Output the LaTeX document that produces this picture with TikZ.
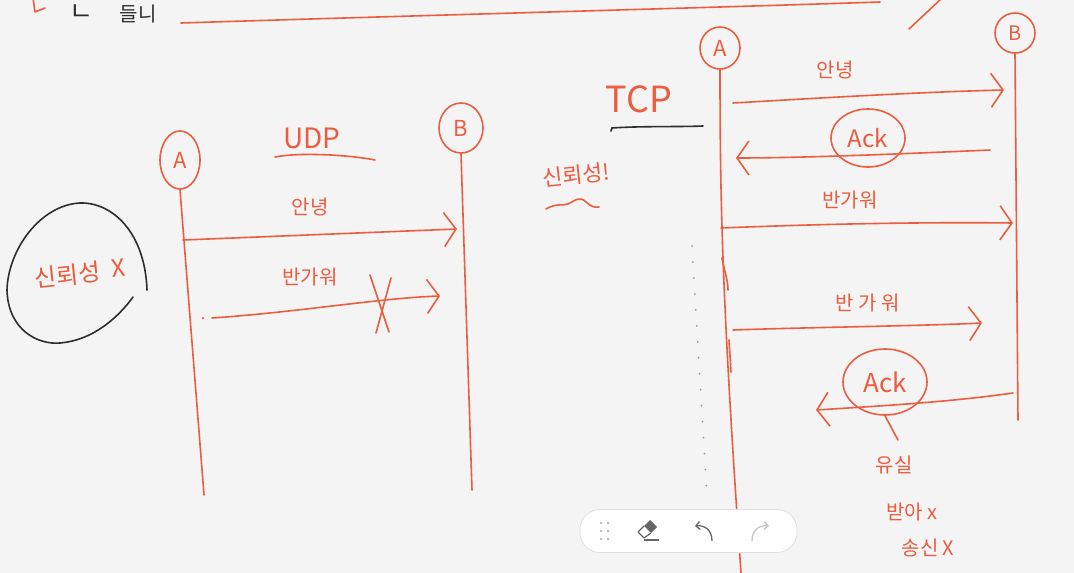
\documentclass[tikz,border=0pt]{standalone}
\usepackage{fontspec}
\newfontfamily\kr{Noto Sans CJK KR}
\usetikzlibrary{arrows.meta,shapes.geometric}
\definecolor{pen}{RGB}{236,92,62}
\definecolor{bg}{RGB}{244,244,244}
\definecolor{ink}{RGB}{45,45,45}
\begin{document}
\begin{tikzpicture}[x=1pt,y=-1pt,
  pen/.style={draw=pen,line width=1.6pt,line cap=round,line join=round},
  blk/.style={draw=ink,line width=1.6pt,line cap=round},
  ent/.style={ellipse,draw=pen,line width=1.6pt,text=pen,font=\kr\fontsize{22}{22}\selectfont,inner sep=0pt},
  lbl/.style={text=pen,font=\kr\fontsize{20}{20}\selectfont,inner sep=1pt},
  big/.style={text=pen,font=\kr\fontsize{36}{36}\selectfont,inner sep=0pt},
  msg/.style={pen,-{Straight Barb[length=12pt,width=34pt,line width=1.6pt]}},
  ackc/.style={ellipse,draw=pen,line width=1.6pt,text=pen,font=\kr\fontsize{24}{24}\selectfont,inner sep=0pt},
]
\fill[bg] (0,0) rectangle (1074,573);
\useasboundingbox (0,0) rectangle (1074,573);

% ---------- top fragments ----------
\coordinate (tl1) at (181,23);
\coordinate (tl2) at (880,2);
\draw[pen] (tl1) .. controls (400,16) and (700,8) .. (tl2);
\coordinate (td1) at (909,29);
\coordinate (td2) at (942,-2);
\draw[pen] (td1) -- (td2);
\coordinate (rm1) at (33,-2);
\coordinate (rm2) at (35,12);
\coordinate (rm3) at (45,8);
\draw[pen] (rm1) -- (rm2) -- (rm3);
\node[text=ink,font=\kr\fontsize{26}{26}\selectfont,inner sep=0pt] (tk1) at (81,13) {ㄴ};
\node[text=ink,font=\kr\fontsize{20}{20}\selectfont,inner sep=0pt] (tk2) at (138,14) {들니};

% ---------- UDP ----------
\node[ent,minimum width=40pt,minimum height=58pt] (ua) at (180,160) {A};
\node[ent,minimum width=44pt,minimum height=50pt] (ub) at (461,128) {B};
\coordinate (uaend) at (204,495);
\coordinate (ubend) at (472,490);
\draw[pen] (ua.south) -- (uaend);
\draw[pen] (ub.south) -- (ubend);

\node[big,font=\kr\fontsize{28}{28}\selectfont] (udp) at (312,138) {UDP};
\coordinate (uu1) at (275,157);
\coordinate (uu2) at (375,160);
\draw[pen] (uu1) .. controls (300,152) and (350,155) .. (uu2);

\coordinate (u1s) at (183,240);
\coordinate (u1e) at (457,229);
\draw[msg] (u1s) -- (u1e);
\node[lbl] (u1l) at (310,207) {안녕};

\node[circle,fill=pen,inner sep=0pt,minimum size=2.5pt] (udot) at (203,318) {};
\coordinate (u2s) at (212,318);
\coordinate (u2e) at (440,296);
\draw[msg] (u2s) .. controls (300,312) and (380,298) .. (u2e);
\node[lbl] (u2l) at (310,277) {반가워};
\coordinate (x1a) at (370,275);
\coordinate (x1b) at (389,332);
\coordinate (x2a) at (391,278);
\coordinate (x2b) at (376,333);
\draw[pen] (x1a) -- (x1b);
\draw[pen] (x2a) -- (x2b);

% reliability X (circled)
\node[lbl,font=\kr\fontsize{24}{24}\selectfont,rotate=6] (relx) at (68,275) {신뢰성};
\node[lbl,font=\kr\fontsize{24}{24}\selectfont,rotate=6] (relxx) at (118,268) {X};
\coordinate (c1) at (147,290);
\coordinate (c2) at (133,297);
\draw[blk] (c1) .. controls (145,232) and (112,202) .. (80,203)
  .. controls (40,205) and (8,250) .. (7,290)
  .. controls (8,330) and (38,345) .. (60,343)
  .. controls (95,340) and (120,315) .. (c2);

% ---------- TCP ----------
\node[big] (tcp) at (639,99) {TCP};
\coordinate (tb1) at (611,131);
\coordinate (tb2) at (703,126);
\draw[blk] (tb1) -- (612,128) .. controls (640,126) and (680,127) .. (tb2);
\node[lbl,font=\kr\fontsize{22}{22}\selectfont,rotate=6] (rel) at (576,175) {신뢰성!};
\coordinate (sq1) at (546,209);
\coordinate (sq2) at (599,207);
\draw[pen] (sq1) .. controls (556,203) and (562,206) .. (568,204)
  .. controls (576,200) and (580,196) .. (586,202)
  .. controls (590,206) and (595,208) .. (sq2);

\node[ent,minimum width=40pt,minimum height=42pt] (ta) at (720,48) {A};
\node[ent,minimum width=40pt,minimum height=40pt,font=\kr\fontsize{20}{20}\selectfont] (tbn) at (1015,33) {B};
\coordinate (taend) at (741,573);
\coordinate (tbend) at (1018,420);
\draw[pen] (ta.south) .. controls (720,200) and (722,300) .. (taend);
\draw[pen] (tbn.south) -- (tbend);
\coordinate (dbl1) at (729,340);
\coordinate (dbl2) at (731,372);
\draw[pen] (dbl1) -- (dbl2);
\coordinate (lp1) at (722,258);
\coordinate (lp2) at (728,290);
\draw[pen] (lp1) .. controls (724,270) and (728,280) .. (lp2);

% dotted guide
\coordinate (dt1) at (692,246);
\coordinate (dt2) at (707,497);
\draw[gray!80,line width=2pt,line cap=round,dash pattern=on 0pt off 16pt] (dt1) -- (dt2);

% messages
\coordinate (t1s) at (733,103);
\coordinate (t1e) at (1004,90);
\draw[msg] (t1s) .. controls (820,98) and (920,92) .. (t1e);
\node[lbl] (t1l) at (835,70) {안녕};

\node[ackc,minimum width=74pt,minimum height=58pt] (ack1) at (868,138) {Ack};
\coordinate (t2s) at (990,150);
\coordinate (t2e) at (736,158);
\draw[msg] (t2s) .. controls (900,154) and (800,158) .. (t2e);

\coordinate (t3s) at (721,228);
\coordinate (t3e) at (1013,223);
\draw[msg] (t3s) .. controls (820,224) and (920,222) .. (t3e);
\node[lbl] (t3l) at (850,200) {반가워};

\coordinate (t4s) at (733,330);
\coordinate (t4e) at (982,323);
\draw[msg] (t4s) .. controls (820,327) and (920,326) .. (t4e);
\node[lbl] (t4l) at (868,303) {반 가 워};

\node[ackc,minimum width=84pt,minimum height=66pt,font=\kr\fontsize{26}{26}\selectfont] (ack2) at (885,382) {Ack};
\coordinate (t5s) at (1013,393);
\coordinate (t5e) at (816,410);
\draw[msg] (t5s) .. controls (950,402) and (880,406) .. (t5e);
\coordinate (tail) at (898,440);
\draw[pen] (ack2.south) -- (tail);
\node[lbl] (loss) at (894,465) {유실};
\node[lbl] (recv) at (912,512) {받아 x};
\node[lbl] (send) at (928,548) {송신 X};

% ---------- toolbar ----------
\node[draw=gray!25,fill=white,rounded corners=20pt,minimum width=217pt,minimum height=43pt,line width=0.8pt] (bar) at (688.5,531) {};
\foreach \px in {601,608} \foreach \py in {523,531,539}
  \fill[gray!55] (\px,\py) circle (1.4pt);
\fill[gray!80!black] (644,526) -- (650,520) -- (657,527) -- (651,533) -- cycle;
\draw[gray!80!black,line width=1.2pt,line join=round] (644,526) -- (638,532) -- (644,538) -- (651,533);
\draw[gray!80!black,line width=1.2pt] (644,540) -- (659,540);
\coordinate (un1) at (712,541);
\coordinate (un2) at (695,526);
\draw[gray!80!black,line width=1.3pt,-{Straight Barb[length=4pt,width=8pt]}] (un1) .. controls (712,530) and (705,525) .. (un2);
\coordinate (re1) at (752,541);
\coordinate (re2) at (769,526);
\draw[gray!45,line width=1.3pt,-{Straight Barb[length=4pt,width=8pt]}] (re1) .. controls (752,530) and (759,525) .. (re2);
\end{tikzpicture}
\end{document}
